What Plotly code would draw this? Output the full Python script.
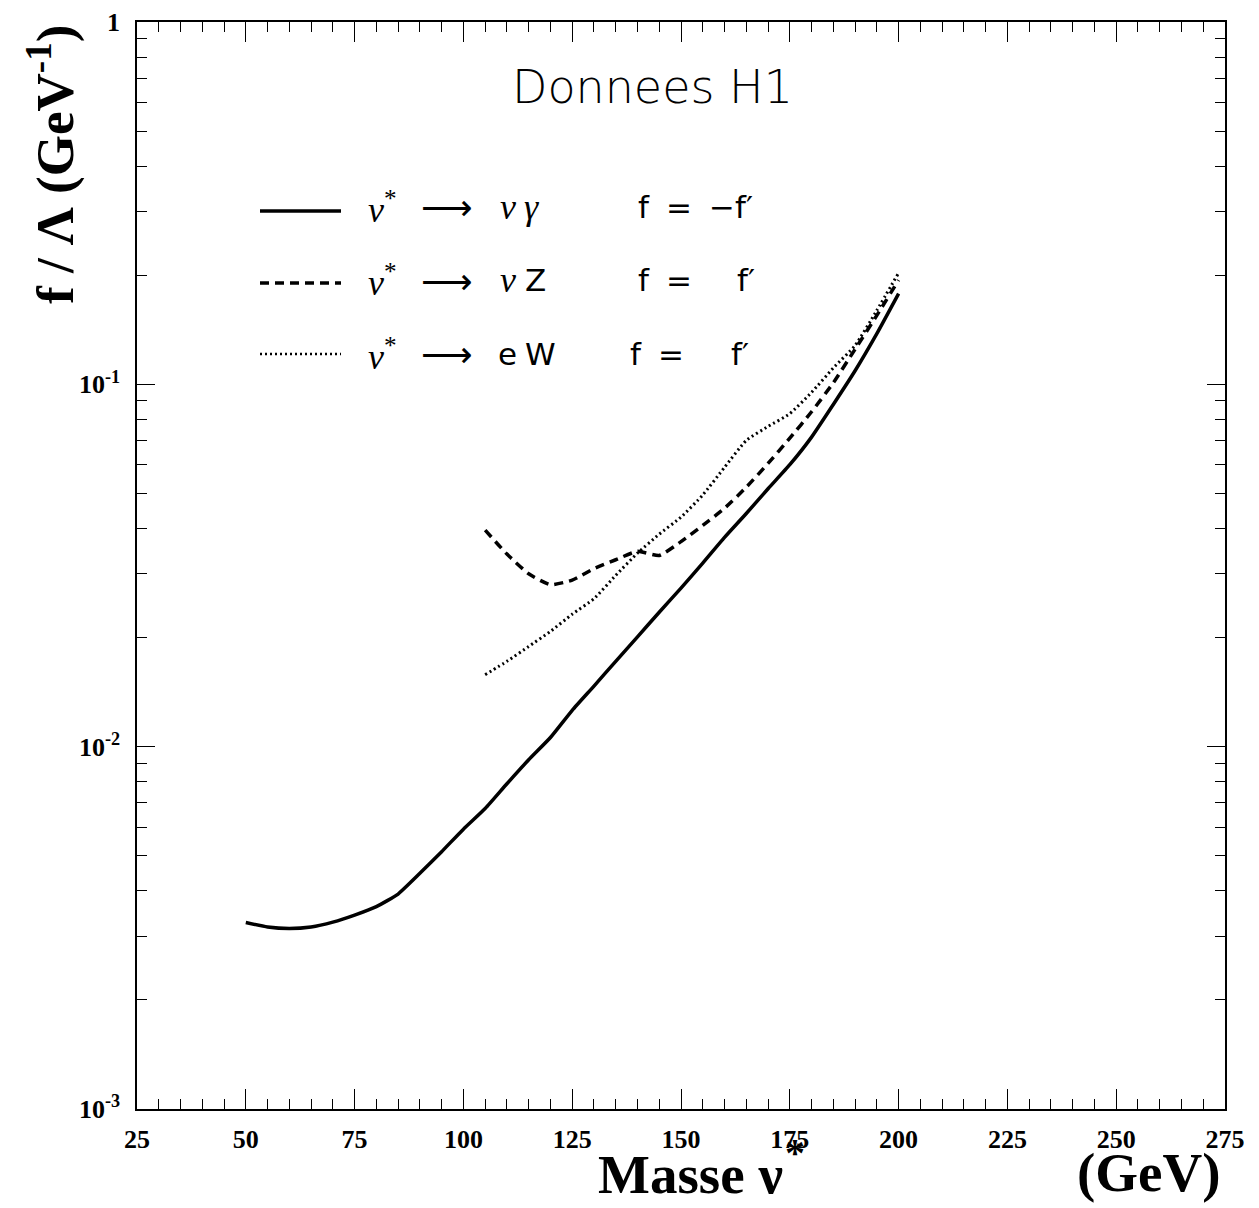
import plotly.graph_objects as go

# ---------------- data ----------------
mass_gamma = [50, 55, 60, 65, 70, 75, 80, 85, 90, 95, 100, 105, 110, 115, 120, 125,
              130, 135, 140, 145, 150, 155, 160, 165, 170, 175, 180, 185, 190, 195, 200]
limit_gamma = [0.00327, 0.00318, 0.00315, 0.00318, 0.00328, 0.00343, 0.00362, 0.00392,
               0.00447, 0.00513, 0.00592, 0.00675, 0.0079, 0.0092, 0.0106, 0.0126,
               0.0147, 0.0172, 0.0201, 0.0235, 0.0274, 0.0321, 0.0378, 0.0440, 0.0515,
               0.0600, 0.0715, 0.0880, 0.109, 0.138, 0.178]

mass_z = [105, 110, 115, 120, 125, 130, 135, 140, 145, 150, 155, 160, 165, 170, 175,
          180, 185, 190, 195, 200]
limit_z = [0.0396, 0.0340, 0.0300, 0.0280, 0.0288, 0.0310, 0.0328, 0.0346, 0.0337,
           0.0368, 0.0408, 0.0455, 0.0520, 0.0605, 0.0710, 0.0840, 0.101, 0.125,
           0.155, 0.194]

mass_w = [105, 110, 115, 120, 125, 130, 135, 140, 145, 150, 155, 160, 165, 170, 175,
          180, 185, 190, 195, 200]
limit_w = [0.0158, 0.0172, 0.0189, 0.0208, 0.0232, 0.0256, 0.0297, 0.0342, 0.0386,
           0.0430, 0.0495, 0.0590, 0.0700, 0.0765, 0.0830, 0.0950, 0.111, 0.128,
           0.160, 0.203]

x_ticks = [25, 50, 75, 100, 125, 150, 175, 200, 225, 250, 275]
y_ticks = [0.001, 0.01, 0.1, 1]
y_ticktext = ["10<sup>-3</sup>", "10<sup>-2</sup>", "10<sup>-1</sup>", "1"]
y_minor = [m * d for d in (0.001, 0.01, 0.1) for m in range(2, 10)]

# ---------------- geometry helpers (layout only) ----------------
W, H = 1259, 1208
L, R, T, B = 137, 1225, 22, 1109


def px(x):
    return (x - L) / (R - L)


def py(y):
    return (B - y) / (B - T)


fig = go.Figure()
fig.add_trace(go.Scatter(x=mass_gamma, y=limit_gamma, mode="lines",
                         line=dict(color="black", width=3.5, shape="spline", smoothing=0.5),
                         showlegend=False))
fig.add_trace(go.Scatter(x=mass_z, y=limit_z, mode="lines",
                         line=dict(color="black", width=3.5, dash="9px,6px",
                                   shape="spline", smoothing=0.5),
                         showlegend=False))
fig.add_trace(go.Scatter(x=mass_w, y=limit_w, mode="lines",
                         line=dict(color="black", width=3, dash="2px,3px",
                                   shape="spline", smoothing=0.5),
                         showlegend=False))

tickfont = dict(family="Liberation Serif", size=26, color="black", weight="bold")

fig.update_xaxes(range=[25, 275], tickvals=x_ticks, ticks="inside", ticklen=20,
                 tickwidth=1, tickcolor="black", showline=True, linecolor="black",
                 linewidth=1.5, mirror="ticks", showgrid=False, zeroline=False,
                 tickfont=tickfont, ticklabelstandoff=6, automargin=False,
                 minor=dict(ticks="inside", ticklen=10, dtick=5, tickcolor="black",
                            tickwidth=1, showgrid=False))
fig.update_yaxes(type="log", range=[-3, 0], tickvals=y_ticks, ticktext=y_ticktext,
                 ticks="inside", ticklen=18, tickwidth=1, tickcolor="black",
                 showline=True, linecolor="black", linewidth=1.5, mirror="ticks",
                 showgrid=False, zeroline=False, tickfont=tickfont,
                 ticklabelstandoff=10, automargin=False,
                 minor=dict(ticks="inside", ticklen=10, tickvals=y_minor,
                            tickcolor="black", tickwidth=1, showgrid=False))

fig.update_layout(width=W, height=H, margin=dict(l=L, r=W - R, t=T, b=H - B),
                  paper_bgcolor="white", plot_bgcolor="white", showlegend=False)

# Legend sample lines
for yy, dash, wd in [(211, "solid", 3.5), (283, "9px,6px", 3.5), (354, "2px,3px", 2.5)]:
    fig.add_shape(type="line", xref="paper", yref="paper", x0=px(260), x1=px(341),
                  y0=py(yy), y1=py(yy), layer="above",
                  line=dict(color="black", width=wd, dash=dash))

# Title text
fig.add_annotation(x=px(652), y=py(87), xref="paper", yref="paper",
                   text="<span style='font-weight:200'>Donnees H1</span>",
                   showarrow=False, xanchor="center", yanchor="middle",
                   font=dict(family="DejaVu Sans", size=46, color="black"))

SERIF = dict(family="Liberation Serif", size=36, color="black")
SANS = dict(family="DejaVu Sans", size=31, color="black")

# Legend entries: (row y, [(text, x, font)])
rows = [
    (207, [("<i>ν</i>", 498, SERIF), ("<i>γ</i>", 522, SERIF),
           ("f", 636, SANS), ("=", 664, SANS), ("−f′", 707, SANS)]),
    (280, [("<i>ν</i>", 498, SERIF), ("Z", 523, SANS),
           ("f", 636, SANS), ("=", 664, SANS), ("f′", 735, SANS)]),
    (354, [("e", 496, SANS), ("W", 523, SANS),
           ("f", 628, SANS), ("=", 656, SANS), ("f′", 729, SANS)]),
]
for yy, parts in rows:
    fig.add_annotation(x=px(366), y=py(yy), xref="paper", yref="paper",
                       text="<i>ν</i><sup>*</sup>", showarrow=False,
                       xanchor="left", yanchor="middle", font=SERIF)
    fig.add_annotation(x=px(419), y=py(yy + 1), xref="paper", yref="paper",
                       text="⟶", showarrow=False, xanchor="left", yanchor="middle",
                       font=dict(family="DejaVu Sans", size=36, color="black"))
    for txt, xx, fnt in parts:
        fig.add_annotation(x=px(xx), y=py(yy), xref="paper", yref="paper",
                           text=txt, showarrow=False, xanchor="left", yanchor="middle",
                           font=fnt)

# Axis titles
fig.add_annotation(x=px(52), y=py(165), xref="paper", yref="paper",
                   text="<b>f / Λ (GeV<sup>-1</sup>)</b>", textangle=-90,
                   showarrow=False, xanchor="center", yanchor="middle",
                   font=dict(family="Liberation Serif", size=53, color="black"))
fig.add_annotation(x=px(596), y=py(1174), xref="paper", yref="paper",
                   text="<b>Masse ν</b>", showarrow=False,
                   xanchor="left", yanchor="middle",
                   font=dict(family="Liberation Serif", size=55, color="black"))
fig.add_annotation(x=px(795), y=py(1153), xref="paper", yref="paper",
                   text="<b>*</b>", showarrow=False,
                   xanchor="center", yanchor="middle",
                   font=dict(family="Liberation Serif", size=40, color="black"))
fig.add_annotation(x=px(1223), y=py(1172), xref="paper", yref="paper",
                   text="<b>(GeV)</b>", showarrow=False,
                   xanchor="right", yanchor="middle",
                   font=dict(family="Liberation Serif", size=55, color="black"))

fig.write_html("out.html", config={"displayModeBar": False},
               post_script="document.body.style.margin='0';")
